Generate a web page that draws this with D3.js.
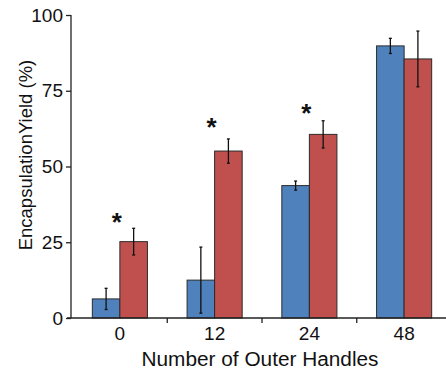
<!DOCTYPE html>
<html>
<head>
<meta charset="utf-8">
<script src="https://cdn.jsdelivr.net/npm/d3@7/dist/d3.min.js"></script>
<style>
  html, body { margin: 0; padding: 0; background: #fff; }
  svg { display: block; font-family: "Liberation Sans", Arial, sans-serif; }
</style>
</head>
<body>
<svg id="chart" width="446" height="373"></svg>
<script>
// ---- data ----
const categories = ["0", "12", "24", "48"];
const seriesNames = ["A", "B"];
const seriesA = [6.3, 12.5, 43.7, 89.8];
const errorA  = [3.5, 10.9, 1.5, 2.5];
const seriesB = [25.2, 55.1, 60.6, 85.5];
const errorB  = [4.4, 4.0, 4.5, 9.2];
const yTicks = [0, 25, 50, 75, 100];
const starCategories = ["0", "12", "24"];
const starValues = [32.7, 64.0, 68.6];
const xTitle = "Number of Outer Handles";
const yTitle = "EncapsulationYield (%)";

const colors = { A: "#4f81bd", B: "#c0504d" };

const svg = d3.select("#chart");
const plotTop = 15, plotBottom = 318, plotLeft = 71, plotRight = 446;

const y = d3.scaleLinear().domain([0, 100]).range([plotBottom, plotTop]);
const x0 = d3.scaleBand().domain(categories).range([72.5, 451.5]).paddingInner(0).paddingOuter(0);
const x1 = d3.scaleBand().domain(seriesNames).range([0, x0.bandwidth()]).paddingInner(0).paddingOuter(0.72);

const rows = categories.map((c, i) => ({
  cat: c,
  vals: [
    { s: "A", v: seriesA[i], e: errorA[i] },
    { s: "B", v: seriesB[i], e: errorB[i] }
  ]
}));

// bars
const g = svg.append("g");
const groups = g.selectAll("g.grp").data(rows).join("g")
  .attr("class", "grp")
  .attr("transform", d => `translate(${x0(d.cat)},0)`);

groups.selectAll("rect").data(d => d.vals).join("rect")
  .attr("x", d => x1(d.s))
  .attr("y", d => y(d.v))
  .attr("width", x1.bandwidth())
  .attr("height", d => y(0) - y(d.v))
  .attr("fill", d => colors[d.s])
  .attr("stroke", "#2b2b2b")
  .attr("stroke-width", 1);

// error bars
const eb = groups.selectAll("g.eb").data(d => d.vals).join("g").attr("class", "eb");
eb.append("line")
  .attr("x1", d => x1(d.s) + x1.bandwidth() / 2)
  .attr("x2", d => x1(d.s) + x1.bandwidth() / 2)
  .attr("y1", d => y(d.v + d.e))
  .attr("y2", d => y(d.v - d.e))
  .attr("stroke", "#111").attr("stroke-width", 1.3);
[1, -1].forEach(sign => {
  eb.append("line")
    .attr("x1", d => x1(d.s) + x1.bandwidth() / 2 - 1.5)
    .attr("x2", d => x1(d.s) + x1.bandwidth() / 2 + 1.5)
    .attr("y1", d => y(d.v + sign * d.e))
    .attr("y2", d => y(d.v + sign * d.e))
    .attr("stroke", "#111").attr("stroke-width", 1.3);
});

// asterisks
svg.selectAll("text.star").data(starCategories.map((c, i) => ({ c, v: starValues[i] }))).join("text")
  .attr("class", "star")
  .attr("x", d => x0(d.c) + x0.bandwidth() / 2 - 3)
  .attr("y", d => y(d.v) + 12)
  .attr("text-anchor", "middle")
  .attr("font-size", 26)
  .attr("font-weight", "bold")
  .attr("fill", "#111")
  .text("*");

// y axis
const yAxis = svg.append("g")
  .attr("transform", `translate(${plotLeft},0)`)
  .call(d3.axisLeft(y).tickValues(yTicks).tickSize(5).tickPadding(3));
yAxis.select(".domain").attr("stroke", "#222").attr("stroke-width", 1.3).attr("d", `M0,${plotTop}V${plotBottom}`);
yAxis.selectAll(".tick line").attr("stroke", "#222").attr("stroke-width", 1.3);
yAxis.selectAll(".tick text").attr("font-size", 19).attr("fill", "#111")
  .attr("font-family", "Liberation Sans, Arial, sans-serif");

// x axis
const xAxis = svg.append("g")
  .attr("transform", `translate(0,${plotBottom})`)
  .call(d3.axisBottom(x0).tickSize(0).tickPadding(9));
xAxis.select(".domain").attr("d", `M${plotLeft - 4},0H${plotRight}`).attr("stroke", "#222").attr("stroke-width", 1.3);
xAxis.selectAll(".tick text").attr("font-size", 19).attr("fill", "#111")
  .attr("font-family", "Liberation Sans, Arial, sans-serif");
// boundary ticks between groups
xAxis.selectAll("line.bound").data(categories.slice(1)).join("line")
  .attr("class", "bound")
  .attr("x1", d => x0(d)).attr("x2", d => x0(d))
  .attr("y1", 0).attr("y2", 5)
  .attr("stroke", "#222").attr("stroke-width", 1.3);

// titles
svg.append("text")
  .attr("x", 260).attr("y", 366)
  .attr("text-anchor", "middle")
  .attr("font-size", 19.5)
  .attr("textLength", 237).attr("lengthAdjust", "spacingAndGlyphs")
  .attr("fill", "#111")
  .text(xTitle);

svg.append("text")
  .attr("transform", "translate(32,155) rotate(-90)")
  .attr("text-anchor", "middle")
  .attr("font-size", 18.5)
  .attr("fill", "#111")
  .text(yTitle);
</script>
</body>
</html>
